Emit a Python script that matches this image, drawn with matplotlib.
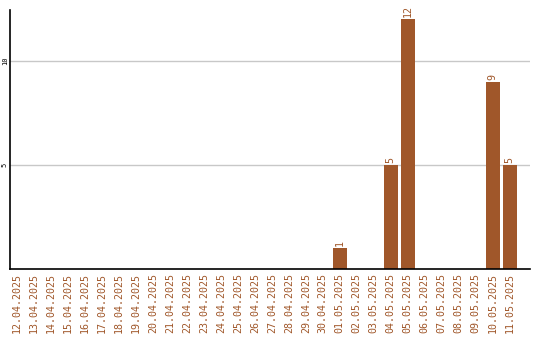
import matplotlib
matplotlib.use("Agg")
import matplotlib.pyplot as plt

BAR_COLOR = "#a0572a"

dates = [
    "12.04.2025", "13.04.2025", "14.04.2025", "15.04.2025", "16.04.2025",
    "17.04.2025", "18.04.2025", "19.04.2025", "20.04.2025", "21.04.2025",
    "22.04.2025", "23.04.2025", "24.04.2025", "25.04.2025", "26.04.2025",
    "27.04.2025", "28.04.2025", "29.04.2025", "30.04.2025", "01.05.2025",
    "02.05.2025", "03.05.2025", "04.05.2025", "05.05.2025", "06.05.2025",
    "07.05.2025", "08.05.2025", "09.05.2025", "10.05.2025", "11.05.2025",
]
counts = [0] * 19 + [1, 0, 0, 5, 12, 0, 0, 0, 0, 9, 5]
y_ticks = [5, 10]

fig = plt.figure(figsize=(5.4, 3.4), dpi=100)
ax = fig.add_axes([0.0185, 0.209, 0.963, 0.762])

x = list(range(len(dates)))
bars = ax.bar(x, counts, width=0.82, color=BAR_COLOR, zorder=2)

for bar, val in zip(bars, counts):
    if val > 0:
        ax.text(bar.get_x() + bar.get_width() / 2, val + 0.1, str(val),
                rotation=90, ha="center", va="bottom", color=BAR_COLOR,
                fontsize=7.2, family="DejaVu Sans Mono")

ax.set_xlim(-0.42, 30.2)
ax.set_ylim(0, 12.45)
ax.set_xticks(x)
ax.set_xticklabels(dates, rotation=90, color=BAR_COLOR, fontsize=7.2,
                   family="DejaVu Sans Mono")
ax.set_yticks(y_ticks)
ax.set_yticklabels([str(v) for v in y_ticks], rotation=90, va="center",
                   fontsize=5, family="DejaVu Sans Mono")
ax.tick_params(axis="x", length=0, pad=3)
ax.tick_params(axis="y", length=0, pad=1.5)
ax.grid(axis="y", color="#c8c8c8", linewidth=1, zorder=0)
ax.spines["top"].set_visible(False)
ax.spines["right"].set_visible(False)
ax.spines["left"].set_linewidth(1.2)
ax.spines["bottom"].set_linewidth(1.2)

fig.savefig("out.png", dpi=100)
